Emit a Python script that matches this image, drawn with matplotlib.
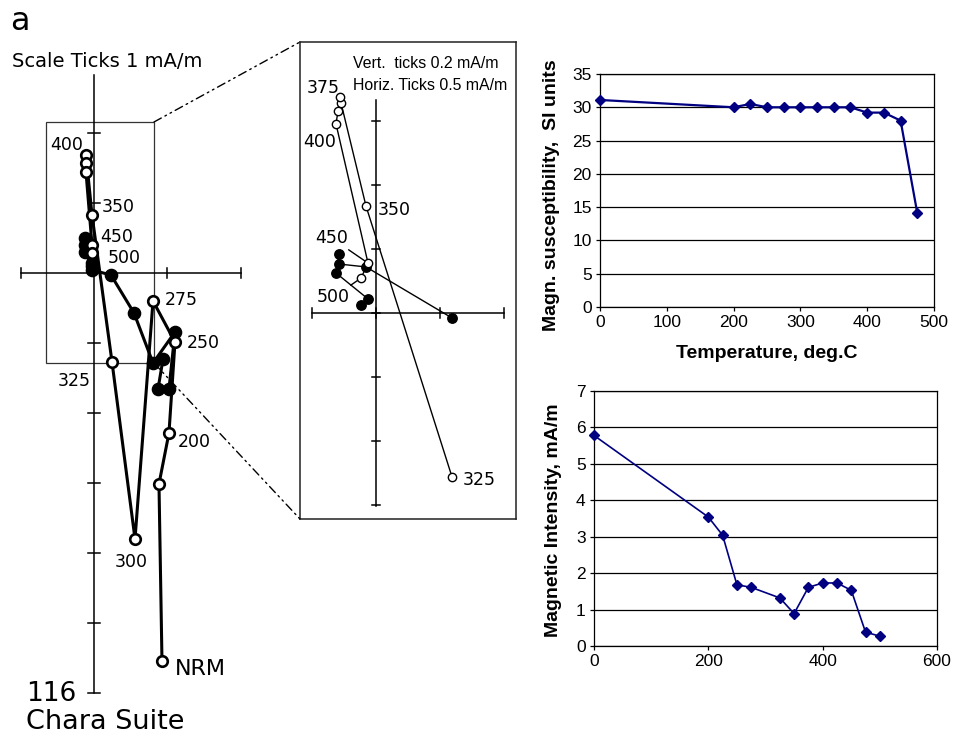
import matplotlib
matplotlib.use('Agg')
import matplotlib.pyplot as plt
from matplotlib.patches import Rectangle, ConnectionPatch

W, H = 954, 737

# ---------------- data ----------------
# Main Zijderveld diagram (mA/m): open = vertical projection, filled = horizontal projection
main_open_x = [0.925, 0.884, 1.020, 1.102, 0.803, 0.558, 0.245, -0.027, -0.109, -0.109, -0.109, -0.027, -0.027]
main_open_y = [-5.543, -3.014, -2.286, -0.986, -0.400, -3.800, -1.271, 0.829, 1.686, 1.571, 1.443, 0.400, 0.286]
main_fill_x = [0.939, 0.871, 1.020, 1.102, 0.803, 0.544, 0.231, -0.027, -0.027, -0.122, -0.122, -0.122, -0.027]
main_fill_y = [-1.229, -1.657, -1.657, -0.843, -1.286, -0.571, -0.029, 0.043, 0.143, 0.50, 0.40, 0.30, 0.10]
main_labels = ['400', '350', '450', '500', '275', '250', '325', '200', '300', 'NRM']

# Inset (enlarged) diagram (mA/m)
inset_open_x = [0.594, -0.078, -0.273, -0.281, -0.297, -0.3125, -0.0625, -0.117]
inset_open_y = [-0.5125, 0.334, 0.656, 0.675, 0.631, 0.591, 0.156, 0.109]
inset_fill_x = [0.594, -0.078, -0.289, -0.289, -0.3125, -0.0625, -0.117]
inset_fill_y = [-0.0156, 0.144, 0.153, 0.184, 0.125, 0.044, 0.025]
inset_labels = ['375', '400', '350', '450', '500', '325']

# Magnetic susceptibility vs temperature
susc_T = [0, 200, 225, 250, 275, 300, 325, 350, 375, 400, 425, 450, 475]
susc_v = [31.1, 30.0, 30.5, 30.0, 30.0, 30.0, 30.0, 30.0, 30.0, 29.2, 29.2, 28.0, 14.1]

# Magnetic intensity vs temperature
int_T = [0, 200, 225, 250, 275, 325, 350, 375, 400, 425, 450, 475, 500]
int_v = [5.78, 3.54, 3.04, 1.68, 1.61, 1.32, 0.89, 1.61, 1.73, 1.73, 1.53, 0.38, 0.27]

# main-diagram box limits (mA/m)
box_x0, box_x1 = -0.653, 0.816
box_y0, box_y1 = -1.286, 2.157

NAVY = '#000080'
GEO = 'DejaVu Sans'
ARIAL = 'Liberation Sans'

fig = plt.figure(figsize=(W / 100, H / 100), dpi=100)
fig.patch.set_facecolor('white')


def fp(x, y):
    """pixel (from top-left) -> figure fraction"""
    return x / W, 1 - y / H


# ---------------- main Zijderveld ----------------
SX, SY = 73.5, 70.0
OX, OY = 94, 273
ax0 = fig.add_axes([0, 0, 1, 1])
ax0.set_xlim(-OX / SX, (W - OX) / SX)
ax0.set_ylim((OY - H) / SY, OY / SY)
ax0.axis('off')

alw = 1.1
ax0.plot([0, 0], [-6, 2.83], color='k', lw=alw)
for v in [-6, -5, -4, -3, -2, -1, 1, 2]:
    ax0.plot([-0.082, 0.082], [v, v], color='k', lw=alw)
ax0.plot([-1, 2], [0, 0], color='k', lw=alw)
for t in [-1, 1, 2]:
    ax0.plot([t, t], [-0.071, 0.071], color='k', lw=alw)

rect = Rectangle((box_x0, box_y0), box_x1 - box_x0, box_y1 - box_y0,
                 fill=False, edgecolor='#333333', lw=0.9)
ax0.add_patch(rect)

ax0.plot(main_fill_x, main_fill_y, color='k', lw=2.2, zorder=3)
ax0.plot(main_open_x, main_open_y, color='k', lw=2.2, zorder=3)
ax0.plot(main_fill_x, main_fill_y, 'o', color='k', ms=8.8, zorder=4)
ax0.plot(main_open_x, main_open_y, 'o', mfc='white', mec='k', mew=1.9, ms=7.6, zorder=5)

main_label_pos = [(50, 150), (102, 212), (100, 242), (108, 263), (165, 305),
                  (187, 348), (58, 386), (178, 447), (115, 567), (175, 675)]
for lab, (x, y) in zip(main_labels, main_label_pos):
    fs = 16 if lab == 'NRM' else 12.5
    fig.text(*fp(x, y), lab, fontsize=fs, family=GEO, ha='left', va='baseline')

fig.text(*fp(10, 30), 'a', fontsize=23, family=GEO, ha='left', va='baseline')
fig.text(*fp(12, 67), 'Scale Ticks 1 mA/m', fontsize=14, family=GEO, ha='left', va='baseline')
fig.text(*fp(26, 701), '116', fontsize=19, family=GEO, ha='left', va='baseline')
fig.text(*fp(26, 729), 'Chara Suite', fontsize=19.5, family=GEO, ha='left', va='baseline')

# ---------------- inset ----------------
ISX, ISY = 128.0, 320.0
IOX, IOY = 376, 313
L, T, R, B = 300, 42, 516, 519
ax_in = fig.add_axes([L / W, 1 - B / H, (R - L) / W, (B - T) / H])
ax_in.set_xlim((L - IOX) / ISX, (R - IOX) / ISX)
ax_in.set_ylim((IOY - B) / ISY, (IOY - T) / ISY)
ax_in.set_xticks([])
ax_in.set_yticks([])
for s in ax_in.spines.values():
    s.set_linewidth(1.1)
    s.set_color('#222222')

ilw = 1.1
ax_in.plot([0, 0], [-0.603, 0.666], color='k', lw=ilw)
for v in [-0.6, -0.4, -0.2, 0.0, 0.2, 0.4, 0.6]:
    ax_in.plot([-0.031, 0.031], [v, v], color='k', lw=ilw)
ax_in.plot([-0.5, 1.0], [0, 0], color='k', lw=ilw)
for t in [-0.5, 0.0, 0.5, 1.0]:
    ax_in.plot([t, t], [-0.0156, 0.0156], color='k', lw=ilw)

ax_in.plot(inset_fill_x, inset_fill_y, color='k', lw=1.0, zorder=3)
ax_in.plot(inset_open_x, inset_open_y, color='k', lw=1.0, zorder=3)
ax_in.plot(inset_fill_x, inset_fill_y, 'o', color='k', ms=6.8, zorder=4)
ax_in.plot(inset_open_x, inset_open_y, 'o', mfc='white', mec='k', mew=1.0, ms=6.0, zorder=5)

ax_in.text(*((353 - L) / (R - L), 1 - (68 - T) / (B - T)), 'Vert.  ticks 0.2 mA/m',
           transform=ax_in.transAxes, fontsize=11.4, family=ARIAL, ha='left', va='baseline')
ax_in.text(*((353 - L) / (R - L), 1 - (90 - T) / (B - T)), 'Horiz. Ticks 0.5 mA/m',
           transform=ax_in.transAxes, fontsize=11.4, family=ARIAL, ha='left', va='baseline')

inset_label_pos = {'375': (307, 93), '400': (303, 147), '350': (378, 215), '325': (463, 485)}
for lab in ['375', '400', '350', '325']:
    x, y = inset_label_pos[lab]
    fig.text(*fp(x, y), lab, fontsize=12.5, family=GEO, ha='left', va='baseline')

# labels with leader lines
ax_in.annotate('450', xy=(inset_open_x[6], inset_open_y[6]), xytext=(315, H - 243),
               textcoords='figure pixels', fontsize=12.5, family=GEO, ha='left', va='baseline',
               arrowprops=dict(arrowstyle='-', lw=1.0, color='k', shrinkA=0, shrinkB=3))
ax_in.annotate('500', xy=(inset_open_x[7], inset_open_y[7]), xytext=(317, H - 302),
               textcoords='figure pixels', fontsize=12.5, family=GEO, ha='left', va='baseline',
               arrowprops=dict(arrowstyle='-', lw=1.0, color='k', shrinkA=0, shrinkB=3))

# connector dash-dot lines
for ya, yb in [(box_y1, 1), (box_y0, 0)]:
    con = ConnectionPatch(xyA=(box_x1, ya), coordsA=ax0.transData,
                          xyB=(0, yb), coordsB=ax_in.transAxes,
                          color='k', lw=1.0, linestyle=(0, (6, 3, 1.2, 3, 1.2, 3)))
    fig.add_artist(con)

# ---------------- susceptibility chart ----------------
def style_excel(ax):
    for s in ax.spines.values():
        s.set_linewidth(0.9)
        s.set_color('black')
    ax.yaxis.grid(True, color='black', lw=0.9)
    ax.set_axisbelow(True)
    ax.tick_params(direction='out', length=3, width=0.9, labelsize=12.5, pad=3)
    for lab in ax.get_xticklabels() + ax.get_yticklabels():
        lab.set_family(ARIAL)


ax1 = fig.add_axes([600 / W, 1 - 307 / H, 334 / W, 233 / H])
ax1.plot(susc_T, susc_v, color=NAVY, lw=1.6, marker='D', ms=5.6, mfc=NAVY, mec=NAVY,
         clip_on=False, zorder=5)
ax1.set_xlim(0, 500)
ax1.set_ylim(0, 35)
ax1.set_xticks(range(0, 501, 100))
ax1.set_yticks(range(0, 36, 5))
style_excel(ax1)
ax1.set_ylabel('Magn. susceptibility,  SI units', fontsize=14, fontweight='bold', family=ARIAL)
ax1.yaxis.set_label_coords(-0.12, 0.48)
ax1.set_xlabel('Temperature, deg.C', fontsize=14, fontweight='bold', family=ARIAL)
ax1.xaxis.set_label_coords(0.5, -0.165)

# ---------------- intensity chart ----------------
ax2 = fig.add_axes([594 / W, 1 - 646 / H, 343 / W, 255 / H])
ax2.plot(int_T, int_v, color=NAVY, lw=1.2, marker='D', ms=4.8, mfc=NAVY, mec=NAVY,
         clip_on=False, zorder=5)
ax2.set_xlim(0, 600)
ax2.set_ylim(0, 7)
ax2.set_xticks(range(0, 601, 200))
ax2.set_yticks(range(0, 8, 1))
style_excel(ax2)
ax2.set_ylabel('Magnetic Intensity, mA/m', fontsize=14, fontweight='bold', family=ARIAL)
ax2.yaxis.set_label_coords(-0.093, 0.494)

fig.savefig('out.png', dpi=100, facecolor='white')
